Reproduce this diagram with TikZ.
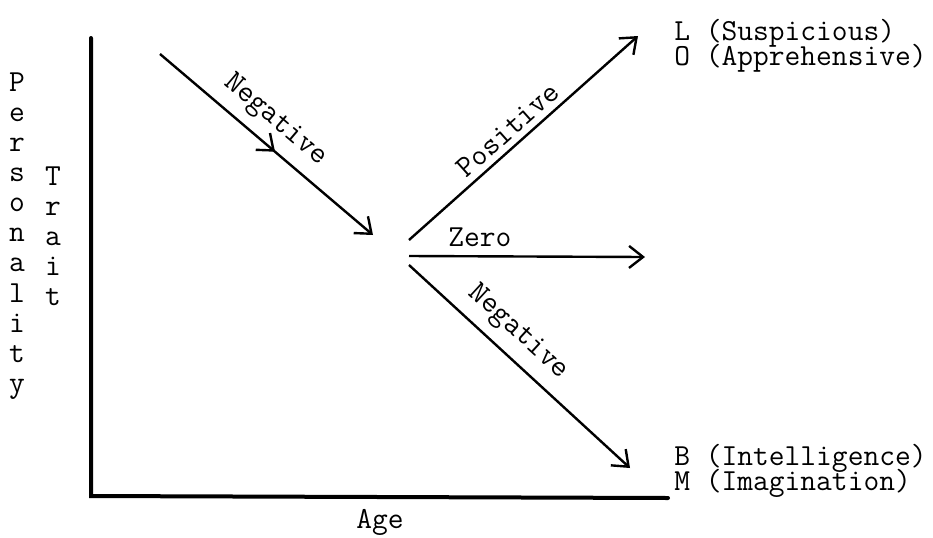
\documentclass[tikz,border=0pt]{standalone}
\usepackage{tikz}
\usetikzlibrary{arrows.meta, decorations.markings}
\tikzstyle{axis} = [line width=2pt, line cap=round]
\tikzstyle{trend} = [line width=1.2pt, -{Straight Barb[length=7pt,width=11pt]}]
\tikzstyle{txt} = [font=\ttfamily\fontsize{15.3}{18}\selectfont, inner sep=1pt]
\tikzstyle{vtxt} = [txt, align=center, font=\ttfamily\fontsize{15.3}{15.05}\selectfont]
\tikzstyle{factor} = [txt, anchor=west]
\tikzstyle{midarrow} = [postaction={decorate}, decoration={markings, mark=at position 0.54 with {\arrow{Straight Barb[length=7pt,width=11pt]}}}]
\begin{document}
\begin{tikzpicture}[x=0.5pt,y=-0.5pt]
			\useasboundingbox (0,0) rectangle (933,537);
			\coordinate(ytop) at (91, 38);
			\coordinate(o) at (91, 496);
			\coordinate(xend) at (668, 498);
			\draw [axis] (ytop) -- (o) -- (xend);
			\node(age) at (380, 522) [txt] {Age};
			\node(pers) at (17, 236) [vtxt] {P\\e\\r\\s\\o\\n\\a\\l\\i\\t\\y};
			\node(trait) at (53, 236) [vtxt] {T\\r\\a\\i\\t};
			\coordinate(n1s) at (160, 54);
			\coordinate(n1e) at (373, 235);
			\coordinate(ps) at (409, 240);
			\coordinate(pe) at (638, 36);
			\coordinate(zs) at (409, 256);
			\coordinate(ze) at (645, 257);
			\coordinate(n2s) at (409, 265);
			\coordinate(n2e) at (630, 468);
			\draw [trend, midarrow] (n1s) -- node[txt, sloped, above=4pt, pos=0.47](neg1) {Negative} (n1e);
			\draw [trend] (ps) -- node[txt, sloped, above=2pt, pos=0.48](pos) {Positive} (pe);
			\draw [trend] (zs) -- node[txt, above=3pt, pos=0.3](zero) {Zero} (ze);
			\draw [trend] (n2s) -- node[txt, sloped, above=4pt, pos=0.42](neg2) {Negative} (n2e);
			\node(fl) at (672, 33) [factor] {L (Suspicious)};
			\node(fo) at (672, 58) [factor] {O (Apprehensive)};
			\node(fb) at (672, 458) [factor] {B (Intelligence)};
			\node(fm) at (672, 483) [factor] {M (Imagination)};
		\end{tikzpicture}
\end{document}
